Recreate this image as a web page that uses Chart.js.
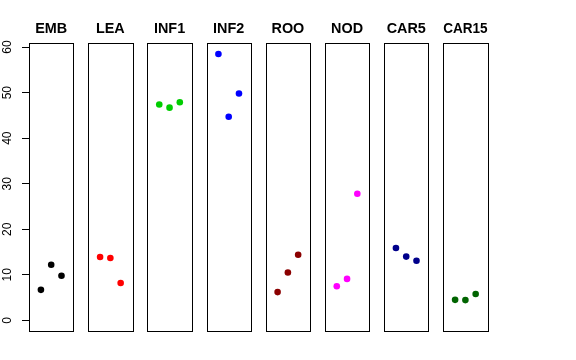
<!DOCTYPE html>
<html>
<head>
<meta charset="utf-8">
<script src="https://cdn.jsdelivr.net/npm/chart.js@4"></script>
<style>
  html, body { margin: 0; padding: 0; background: #fff; }
  #wrap { position: relative; width: 576px; height: 360px; }
  #wrap canvas { position: absolute; left: 0; top: 0; }
</style>
</head>
<body>
<div id="wrap"></div>
<script>
const panelNames = ['EMB', 'LEA', 'INF1', 'INF2', 'ROO', 'NOD', 'CAR5', 'CAR15'];
const xValues = [1, 2, 3];
const embValues = [6.7, 12.2, 9.8];
const leaValues = [13.9, 13.7, 8.2];
const inf1Values = [47.4, 46.7, 47.9];
const inf2Values = [58.5, 44.7, 49.8];
const rooValues = [6.2, 10.5, 14.4];
const nodValues = [7.5, 9.1, 27.8];
const car5Values = [15.9, 14.0, 13.1];
const car15Values = [4.5, 4.45, 5.8];
const yTicks = [0, 10, 20, 30, 40, 50, 60];

const panelValues = [embValues, leaValues, inf1Values, inf2Values, rooValues, nodValues, car5Values, car15Values];
const panelColors = ['#000000', '#FF0000', '#00CD00', '#0000FF', '#8B0000', '#FF00FF', '#00008B', '#006400'];

// R style axis limits: 0..max, stretched by 4%
const yMax0 = Math.max(...panelValues.flat());
const yMin = -0.04 * yMax0;
const yMax = yMax0 * 1.04;
const xMin = 0 - 0.16;
const xMax = 4 + 0.16;

// panel geometry
const W = 576, H = 360;
const firstLeft = 29;
const step = 59.17;
const panelWidth = 44.4;
const plotBottom = 331;

Chart.defaults.font.family = '"Liberation Sans", Arial, Helvetica, sans-serif';
Chart.defaults.color = '#000';

const boxPlugin = {
  id: 'panelBox',
  afterDraw(chart) {
    const { ctx, chartArea: a } = chart;
    ctx.save();
    ctx.strokeStyle = '#000';
    ctx.lineWidth = 1;
    const l = Math.round(a.left) + 0.5;
    const t = Math.round(a.top) + 0.5;
    ctx.strokeRect(l, t, Math.round(a.right) - Math.round(a.left), Math.round(a.bottom) - Math.round(a.top));
    ctx.restore();
  }
};

const wrap = document.getElementById('wrap');

panelNames.forEach((name, i) => {
  const canvas = document.createElement('canvas');
  canvas.width = W;
  canvas.height = H;
  wrap.appendChild(canvas);

  const left = firstLeft + i * step;
  const right = left + panelWidth;
  const withAxis = i === 0;

  new Chart(canvas.getContext('2d'), {
    type: 'scatter',
    data: {
      datasets: [{
        data: xValues.map((x, j) => ({ x: x, y: panelValues[i][j] })),
        backgroundColor: panelColors[i],
        borderColor: panelColors[i],
        borderWidth: 0,
        pointRadius: 3.3,
      }],
    },
    options: {
      responsive: false,
      animation: false,
      events: [],
      layout: {
        padding: { left: withAxis ? 0 : left, right: W - right, top: 0, bottom: H - plotBottom },
      },
      plugins: {
        legend: { display: false },
        tooltip: { enabled: false },
        title: {
          display: true,
          text: name,
          fullSize: false,
          color: '#000',
          font: { size: 14.4, weight: 'bold' },
          padding: { top: 20.7, bottom: 5.3 },
        },
      },
      scales: {
        x: { type: 'linear', min: xMin, max: xMax, display: false },
        y: {
          type: 'linear',
          min: yMin,
          max: yMax,
          display: withAxis,
          position: 'left',
          afterBuildTicks: scale => { scale.ticks = yTicks.map(v => ({ value: v })); },
          afterFit: scale => { if (withAxis) scale.width = left; },
          border: { display: false },
          grid: { drawOnChartArea: false, drawTicks: true, tickLength: 7, color: '#000', tickColor: '#000', lineWidth: 1 },
          ticks: {
            autoSkip: false,
            color: '#000',
            font: { size: 12 },
            padding: 8,
            minRotation: 90,
            maxRotation: 90,
            crossAlign: 'center',
          },
        },
      },
    },
    plugins: [boxPlugin],
  });
});
</script>
</body>
</html>
